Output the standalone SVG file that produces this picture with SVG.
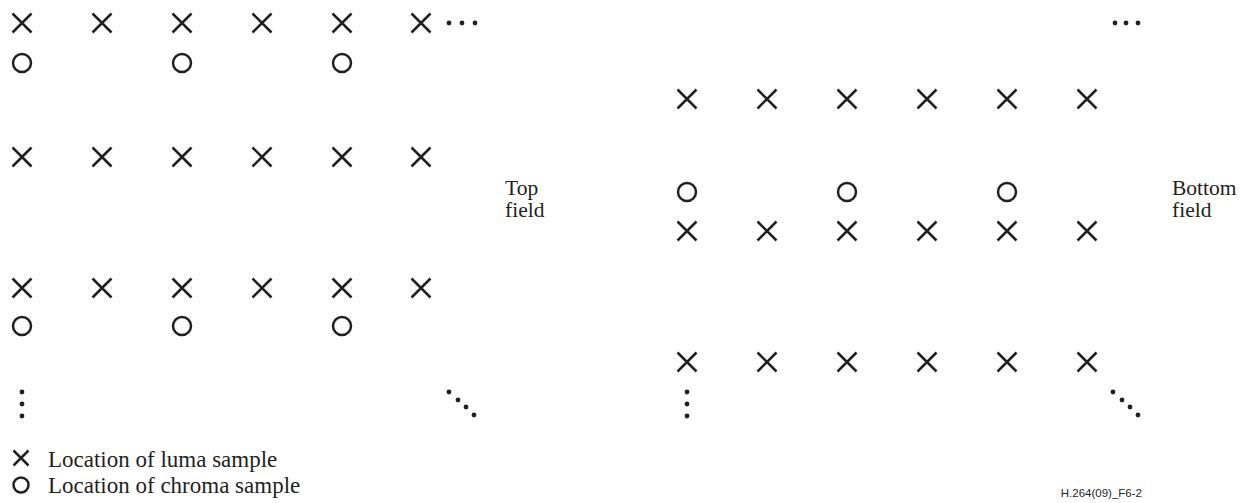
<svg xmlns="http://www.w3.org/2000/svg" width="1257" height="503" viewBox="0 0 1257 503">
<defs>
<style>
.s{stroke:#231f20;stroke-width:2.5;fill:none}
.d{fill:#231f20}
.t{font-family:"Liberation Serif",serif;font-size:23px;fill:#231f20}
.f{font-family:"Liberation Serif",serif;font-size:21.5px;fill:#231f20}
.a{font-family:"Liberation Sans",sans-serif;font-size:11.5px;fill:#231f20}
</style>
<path id="x" class="s" d="M-9.5,-9.5L9.5,9.5M9.5,-9.5L-9.5,9.5"/>
<circle id="o" class="s" r="9"/>
<path id="xs" class="s" d="M-7.5,-7.5L7.5,7.5M7.5,-7.5L-7.5,7.5"/>
<circle id="os" class="s" r="7.5"/>
</defs>
<g id="top-field">
<use href="#x" x="22" y="23"/><use href="#x" x="102" y="23"/><use href="#x" x="182" y="23"/><use href="#x" x="262" y="23"/><use href="#x" x="342" y="23"/><use href="#x" x="421" y="23"/>
<circle class="d" cx="449" cy="23" r="2.4"/><circle class="d" cx="462" cy="23" r="2.4"/><circle class="d" cx="475" cy="23" r="2.4"/>
<use href="#o" x="22" y="63"/><use href="#o" x="182" y="63"/><use href="#o" x="342" y="63"/>
<use href="#x" x="22" y="157"/><use href="#x" x="102" y="157"/><use href="#x" x="182" y="157"/><use href="#x" x="262" y="157"/><use href="#x" x="342" y="157"/><use href="#x" x="421" y="157"/>
<use href="#x" x="22" y="288"/><use href="#x" x="102" y="288"/><use href="#x" x="182" y="288"/><use href="#x" x="262" y="288"/><use href="#x" x="342" y="288"/><use href="#x" x="421" y="288"/>
<use href="#o" x="22" y="326"/><use href="#o" x="182" y="326"/><use href="#o" x="342" y="326"/>
<circle class="d" cx="22" cy="392" r="2.4"/><circle class="d" cx="22" cy="404" r="2.4"/><circle class="d" cx="22" cy="416" r="2.4"/>
<circle class="d" cx="449" cy="392" r="2.4"/><circle class="d" cx="458" cy="400" r="2.4"/><circle class="d" cx="466" cy="407" r="2.4"/><circle class="d" cx="474" cy="415" r="2.4"/>
<text class="f" x="505" y="195">Top</text>
<text class="f" x="505" y="217">field</text>
</g>
<g id="bottom-field">
<circle class="d" cx="1115" cy="23" r="2.4"/><circle class="d" cx="1126" cy="23" r="2.4"/><circle class="d" cx="1138" cy="23" r="2.4"/>
<use href="#x" x="687" y="99"/><use href="#x" x="767" y="99"/><use href="#x" x="847" y="99"/><use href="#x" x="927" y="99"/><use href="#x" x="1007" y="99"/><use href="#x" x="1087" y="99"/>
<use href="#o" x="687" y="192"/><use href="#o" x="847" y="192"/><use href="#o" x="1007" y="192"/>
<use href="#x" x="687" y="231"/><use href="#x" x="767" y="231"/><use href="#x" x="847" y="231"/><use href="#x" x="927" y="231"/><use href="#x" x="1007" y="231"/><use href="#x" x="1087" y="231"/>
<use href="#x" x="687" y="362"/><use href="#x" x="767" y="362"/><use href="#x" x="847" y="362"/><use href="#x" x="927" y="362"/><use href="#x" x="1007" y="362"/><use href="#x" x="1087" y="362"/>
<circle class="d" cx="687" cy="392" r="2.4"/><circle class="d" cx="687" cy="404" r="2.4"/><circle class="d" cx="687" cy="416" r="2.4"/>
<circle class="d" cx="1113" cy="392" r="2.4"/><circle class="d" cx="1122" cy="400" r="2.4"/><circle class="d" cx="1130" cy="407" r="2.4"/><circle class="d" cx="1138" cy="415" r="2.4"/>
<text class="f" x="1172" y="195">Bottom</text>
<text class="f" x="1172" y="217">field</text>
</g>
<g id="legend">
<use href="#xs" x="21" y="458"/>
<use href="#os" x="21" y="485"/>
<text class="t" x="48" y="467">Location of luma sample</text>
<text class="t" x="48" y="493">Location of chroma sample</text>
<text class="a" x="1142" y="497" text-anchor="end">H.264(09)_F6-2</text>
</g>
</svg>
